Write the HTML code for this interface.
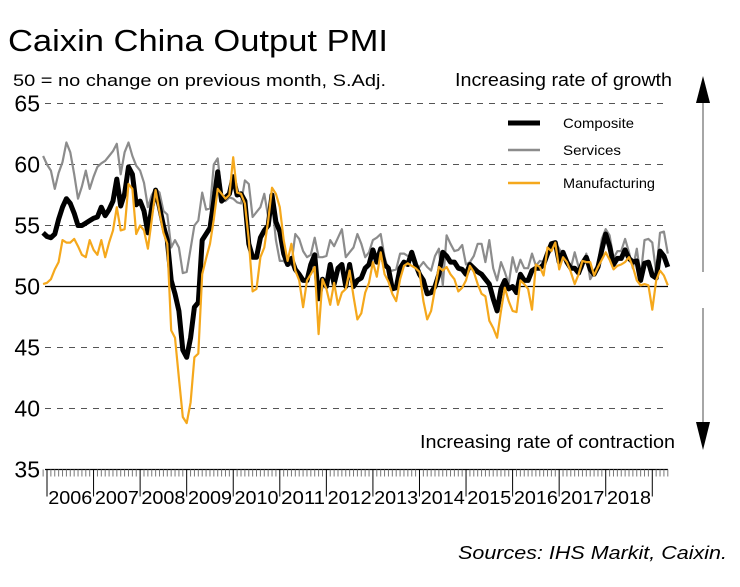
<!DOCTYPE html>
<html><head><meta charset="utf-8"><style>
html,body{margin:0;padding:0;background:#fff;}
svg{display:block;font-family:"Liberation Sans",Arial,sans-serif;}
</style></head><body>
<svg id="chart" width="740" height="587" viewBox="0 0 740 587">
<text x="8" y="51" font-size="31" textLength="380" lengthAdjust="spacingAndGlyphs">Caixin China Output PMI</text>
<text x="13" y="86" font-size="17" textLength="373" lengthAdjust="spacingAndGlyphs">50 = no change on previous month, S.Adj.</text>
<text x="455" y="86" font-size="18" textLength="217" lengthAdjust="spacingAndGlyphs">Increasing rate of growth</text>
<text x="420" y="448" font-size="18" textLength="255" lengthAdjust="spacingAndGlyphs">Increasing rate of contraction</text>
<text x="727" y="559" font-size="18" font-style="italic" text-anchor="end" textLength="269" lengthAdjust="spacingAndGlyphs">Sources: IHS Markit, Caixin.</text>
<g>
<line x1="703" y1="100" x2="703" y2="272" stroke="#888" stroke-width="1.5"/>
<polygon points="696,103 710,103 703,76" fill="#000"/>
</g>
<g>
<line x1="703" y1="308" x2="703" y2="425" stroke="#888" stroke-width="1.5"/>
<polygon points="696,422 710,422 703,450" fill="#000"/>
</g>
<g id="grid"></g>
<g id="axes"></g>
<g id="series"></g>
<g>
<line x1="508" y1="123" x2="540" y2="123" stroke="#000" stroke-width="5"/>
<text x="563" y="128" font-size="14" textLength="71" lengthAdjust="spacingAndGlyphs">Composite</text>
<line x1="508" y1="150" x2="540" y2="150" stroke="#8c8c8c" stroke-width="2.5"/>
<text x="563" y="155" font-size="14" textLength="58" lengthAdjust="spacingAndGlyphs">Services</text>
<line x1="508" y1="183" x2="540" y2="183" stroke="#f5a81c" stroke-width="2.5"/>
<text x="563" y="188" font-size="14" textLength="92" lengthAdjust="spacingAndGlyphs">Manufacturing</text>
</g>
</svg>
<script>
// Monthly data Dec 2005 .. May 2019
const startYear = 2005, startMonth = 11; // Dec 2005 (0-based month)
const composite = [54.4,
54.1,54.0,54.3,55.5,56.5,57.2,56.8,56.0,55.0,55.0,55.2,55.4,
55.6,55.7,56.5,55.8,56.3,57.0,58.8,56.6,57.6,59.8,59.2,56.7,
57.0,56.2,54.4,56.5,57.9,56.5,55.0,53.8,50.5,49.4,48.0,44.8,
44.2,45.8,48.3,48.7,53.8,54.3,54.8,57.0,59.4,57.0,57.3,57.6,
59.0,57.5,57.6,57.0,53.5,52.4,52.4,54.0,54.6,55.0,57.5,55.3,
54.5,52.7,51.8,52.3,51.4,51.0,50.5,50.5,51.8,52.6,49.0,50.6,
50.0,51.8,50.2,51.5,51.8,50.0,51.8,50.0,50.5,50.7,51.5,51.8,
53.0,52.0,53.1,51.8,51.5,49.8,49.9,51.5,52.0,51.8,52.8,51.8,
51.0,50.5,49.4,49.5,50.0,51.0,52.8,52.5,52.0,52.0,51.5,51.4,
51.0,51.8,51.5,51.2,51.0,50.6,50.2,49.0,48.0,49.8,50.5,49.8,
50.0,49.5,51.0,50.5,50.5,51.3,51.5,51.5,51.8,52.7,53.5,53.6,
52.0,52.8,52.0,51.5,51.5,51.1,51.9,52.4,51.4,51.0,51.6,53.0,
54.3,53.3,51.8,52.3,52.3,53.0,52.3,52.0,52.1,50.5,51.9,52.0,
50.9,50.7,52.9,52.5,51.6];
const services = [60.7,
60.0,59.5,58.0,59.3,60.2,61.8,61.0,59.2,57.2,58.2,59.5,58.0,
59.0,59.8,60.1,60.3,60.7,61.1,61.7,59.2,61.0,61.8,60.7,59.9,
59.5,58.5,56.5,57.5,58.0,57.7,56.2,55.9,53.2,53.8,53.2,51.1,
51.2,53.1,55.0,55.4,57.7,56.3,56.4,60.0,60.5,57.6,57.0,57.3,
57.2,56.9,56.8,58.7,58.4,55.7,56.1,56.5,57.6,55.7,56.9,53.8,
52.1,52.1,51.7,51.8,54.3,53.9,52.9,52.4,52.6,54.0,52.4,52.4,
52.5,53.8,53.3,54.0,54.7,52.4,52.8,53.2,54.3,53.5,52.4,52.8,
53.8,54.0,54.3,52.4,51.3,51.3,51.4,52.7,52.7,52.5,52.4,51.7,
51.6,52.0,51.6,51.3,52.5,53.1,50.1,54.2,53.5,52.9,53.0,53.4,
51.8,52.0,52.5,53.5,53.5,52.0,53.8,51.5,50.5,52.0,51.2,50.2,
52.4,51.2,52.2,51.5,51.5,52.7,51.7,52.1,52.0,52.4,53.1,53.6,
53.1,52.6,52.1,51.5,52.8,51.6,51.5,52.7,50.6,51.2,51.9,53.9,
54.7,54.2,52.3,52.9,52.9,53.9,52.8,51.5,53.1,50.8,53.8,53.9,
53.6,51.1,54.4,54.5,52.7];
const manufacturing = [50.2,
50.3,50.6,51.4,52.0,53.8,53.6,53.6,53.9,53.3,52.6,52.4,53.8,
53.0,52.6,53.8,52.4,53.6,54.6,56.5,54.6,54.7,58.4,58.0,54.3,
55.0,54.6,53.1,55.5,57.9,56.1,54.4,53.5,46.4,45.8,42.5,39.3,
38.8,40.5,44.2,44.5,51.0,52.3,53.5,55.5,58.0,57.6,57.2,57.5,
60.6,57.7,57.6,56.8,53.8,49.6,49.8,52.4,53.2,55.4,58.1,57.6,
56.5,53.8,52.1,53.5,51.3,50.5,48.3,50.5,51.0,51.6,46.1,50.6,
49.8,48.5,50.3,48.5,49.5,49.8,51.3,49.2,47.3,47.8,49.5,50.3,
52.0,50.8,52.8,51.0,50.4,49.4,48.8,50.6,51.7,51.9,51.7,51.5,
51.2,48.8,47.3,48.0,49.8,51.6,51.3,51.6,51.0,50.6,49.6,49.9,
50.5,51.7,51.2,50.2,49.4,49.2,47.2,46.6,45.8,48.0,49.9,48.8,
48.0,47.9,50.5,50.2,49.8,48.1,51.8,51.6,50.9,53.2,52.9,53.6,
51.4,52.4,52.0,51.2,50.2,51.0,52.1,52.0,52.0,50.9,51.6,52.2,
52.8,52.2,51.4,51.7,51.8,52.0,52.4,51.6,50.5,50.1,50.2,50.1,
48.1,50.5,51.3,50.9,50.1];
const yTicks = [35,40,45,50,55,60,65];
const yearLabels = ["2006","2007","2008","2009","2010","2011","2012","2013","2014","2015","2016","2017","2018"];

const NS = "http://www.w3.org/2000/svg";
const X0 = 47, MW = 3.88;           // Jan 2006 at X0, px per month
const Y50 = 286.5, PPU = 12.2;       // y for value 50, px per unit
function xm(i){ return X0 + (i - 1) * MW; } // i = index into series (0 = Dec 2005)
function yv(v){ return Y50 - (v - 50) * PPU; }
function mk(tag, attrs, parent){ const e=document.createElementNS(NS,tag); for(const k in attrs) e.setAttribute(k,attrs[k]); parent.appendChild(e); return e; }

const grid = document.getElementById('grid');
const axes = document.getElementById('axes');
const plotRight = 668;
yTicks.forEach(t=>{
  const y = yv(t);
  if (t !== 35 && t !== 50) {
    const l = mk('line',{x1:45,x2:plotRight,y1:y,y2:y,stroke:'#555','stroke-width':1,'stroke-dasharray':'6,6'},grid);
    
    
  }
  const tx = mk('text',{x:40,y:y+8,'font-size':23,'text-anchor':'end'},axes);
  tx.textContent = t;
  
  
});
const zl = mk('line',{x1:45,x2:plotRight,y1:yv(50),y2:yv(50),stroke:'#000','stroke-width':1.2},grid);


const xa = mk('line',{x1:45,x2:plotRight,y1:yv(35),y2:yv(35),stroke:'#000','stroke-width':1.2},axes);


const nMonths = composite.length;
for (let i=0;i<=nMonths;i++){
  const x = xm(i);
  if (x > plotRight) break;
  const isYear = ((i - 1) % 12 === 0) && i >= 1;
  const tk = mk('line',{x1:x,x2:x,y1:yv(35),y2:yv(35)+(isYear?27:7),stroke:isYear?'#000':'#777','stroke-width':1},axes);
  
  
}
yearLabels.forEach((lab,k)=>{
  const x = xm(1 + k*12) + 6*MW;
  const tx = mk('text',{x:x,y:504,'font-size':18.5,'text-anchor':'middle',textLength:44,lengthAdjust:'spacingAndGlyphs'},axes);
  tx.textContent = lab;
  
  
});

const series = document.getElementById('series');
function drawLine(vals, color, w, name){
  const pts = vals.map((v,i)=>xm(i).toFixed(1)+','+yv(v).toFixed(1)).join(' ');
  const p = mk('polyline',{points:pts,fill:'none',stroke:color,'stroke-width':w,'stroke-linejoin':'round'},series);
  
  
}
drawLine(services,'#8c8c8c',2.2,'services-line');
drawLine(composite,'#000',5,'composite-line');
drawLine(manufacturing,'#f5a81c',2.2,'manufacturing-line');
</script>
</body></html>
